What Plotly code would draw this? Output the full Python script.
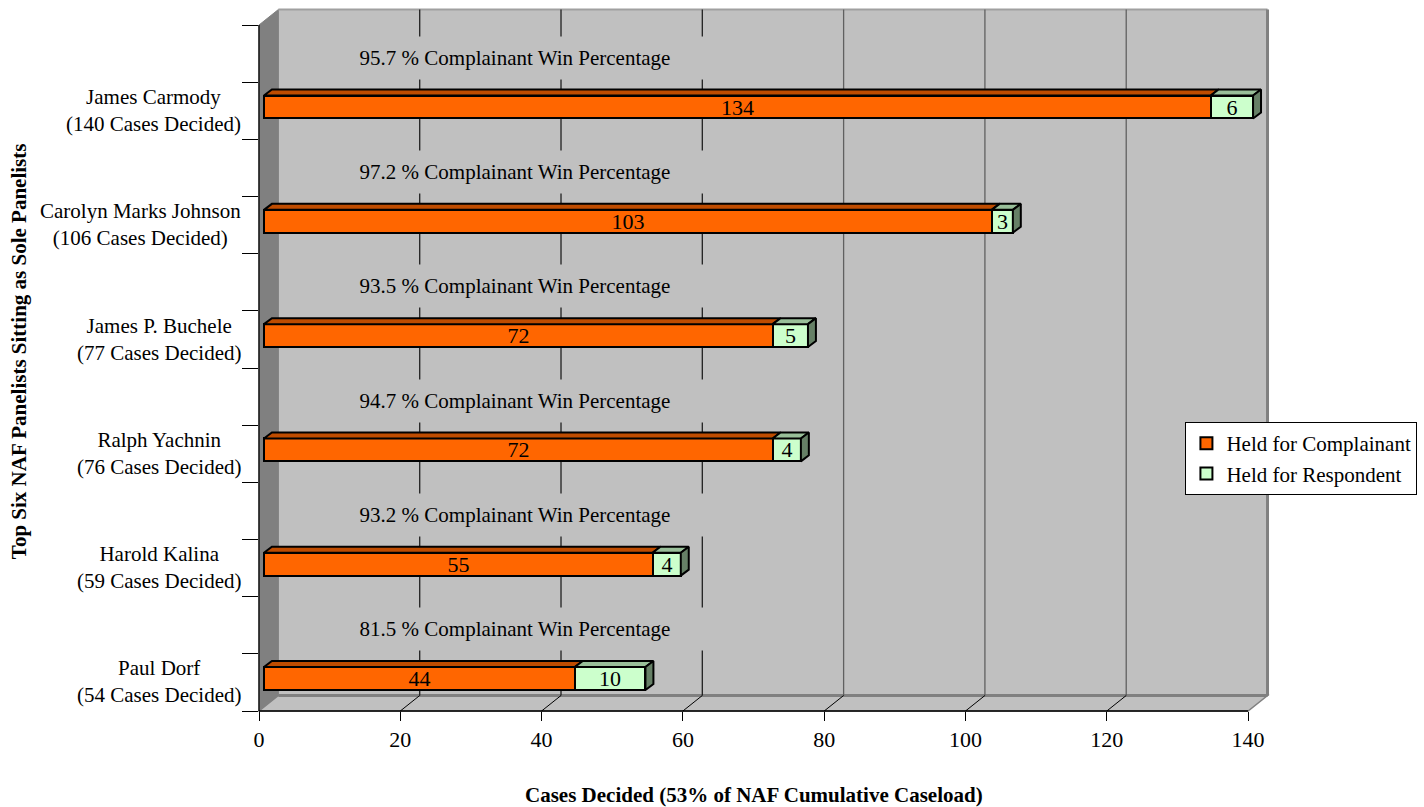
import plotly.graph_objects as go

# ---------------- data ----------------
panelists = ["Paul Dorf", "Harold Kalina", "Ralph Yachnin", "James P. Buchele",
             "Carolyn Marks Johnson", "James Carmody"]
held_complainant = [44, 55, 72, 72, 103, 134]
held_respondent = [10, 4, 4, 5, 3, 6]
x_ticks = [0, 20, 40, 60, 80, 100, 120, 140]
x_title = "Cases Decided (53% of NAF Cumulative Caseload)"
y_title = "Top Six NAF Panelists Sitting as Sole Panelists"

FONT = "Liberation Serif, Times New Roman, serif"

# ---------------- geometry (pixel frame) ----------------
W, H = 1424, 807
L, R, T, B = 259, 1276, 7, 711
PX_PER_X = 7.1
PX_PER_Y = 114.3
Y0_PX = 678.5                      # pixel of category index 0
xmax = (R - L) / PX_PER_X
ymin = (Y0_PX - B) / PX_PER_Y
ymax = (Y0_PX - T) / PX_PER_Y
DX = 19.5 / PX_PER_X               # full depth offset of the 3D box
DY = 15.5 / PX_PER_Y
y_front_top = (Y0_PX - 25) / PX_PER_Y
xfront = x_ticks[-1]


def PX(v):
    return (v - 0) / (xmax - 0)


def PY(v):
    return (v - ymin) / (ymax - ymin)


n = len(panelists)
ypos = list(range(n))
totals = [a + b for a, b in zip(held_complainant, held_respondent)]
pct = [100.0 * a / t for a, t in zip(held_complainant, totals)]

BAR_OFF = 0.7          # bars sit a little behind the front plane
BAR_H = 0.2
ddx, ddy = 8 / PX_PER_X, 6 / PX_PER_Y

ORANGE, ORANGE_TOP = "#FF6600", "#BF4C00"
GREEN, GREEN_TOP, GREEN_SIDE = "#CCFFCC", "#99BF99", "#668066"
WALL, SIDE = "#C0C0C0", "#808080"

fig = go.Figure()

# front faces of bars
fig.add_trace(go.Bar(
    y=ypos, x=held_complainant, base=[BAR_OFF] * n, orientation="h", width=BAR_H,
    marker=dict(color=ORANGE, line=dict(color="black", width=2)),
    text=[str(v) for v in held_complainant], textposition="inside",
    insidetextanchor="middle", textangle=0, constraintext="none",
    textfont=dict(family=FONT, size=22, color="black"),
    name="Held for Complainant", hoverinfo="x+name"))
fig.add_trace(go.Bar(
    y=ypos, x=held_respondent, base=[BAR_OFF + v for v in held_complainant],
    orientation="h", width=BAR_H,
    marker=dict(color=GREEN, line=dict(color="black", width=2)),
    text=[str(v) for v in held_respondent], textposition="inside",
    insidetextanchor="middle", textangle=0, constraintext="none",
    textfont=dict(family=FONT, size=22, color="black"),
    name="Held for Respondent", hoverinfo="x+name"))

# top / side faces (3D look)
def poly_trace(xs, ys, color):
    return go.Scatter(x=xs, y=ys, mode="lines", fill="toself", fillcolor=color,
                      line=dict(color="black", width=2), showlegend=False,
                      hoverinfo="skip")

ox, oy, gx, gy, sx, sy = [], [], [], [], [], []
for c, a, t in zip(ypos, held_complainant, totals):
    top = c + BAR_H / 2
    bot = c - BAR_H / 2
    x0, x1, x2 = BAR_OFF, BAR_OFF + a, BAR_OFF + t
    ox += [x0, x0 + ddx, x1 + ddx, x1, x0, None]
    oy += [top, top + ddy, top + ddy, top, top, None]
    gx += [x1, x1 + ddx, x2 + ddx, x2, x1, None]
    gy += [top, top + ddy, top + ddy, top, top, None]
    sx += [x2, x2 + ddx, x2 + ddx, x2, x2, None]
    sy += [top, top + ddy, bot + ddy, bot, top, None]
fig.add_trace(poly_trace(ox, oy, ORANGE_TOP))
fig.add_trace(poly_trace(gx, gy, GREEN_TOP))
fig.add_trace(poly_trace(sx, sy, GREEN_SIDE))

# ---------------- 3D box: wall, side wall, floor ----------------
shapes = []
def path(points):
    return "M " + " L ".join(f"{PX(x)},{PY(y)}" for x, y in points) + " Z"

# back wall
shapes.append(dict(type="path", xref="paper", yref="paper", layer="below",
                   path=path([(DX, ymin + DY), (DX, y_front_top + DY),
                              (xfront + DX, y_front_top + DY), (xfront + DX, ymin + DY)]),
                   fillcolor=WALL, line=dict(color=WALL, width=0)))
# side wall
shapes.append(dict(type="path", xref="paper", yref="paper", layer="below",
                   path=path([(0, ymin), (DX, ymin + DY), (DX, y_front_top + DY), (0, y_front_top)]),
                   fillcolor=SIDE, line=dict(color=SIDE, width=1)))
# floor
shapes.append(dict(type="path", xref="paper", yref="paper", layer="below",
                   path=path([(0, ymin), (DX, ymin + DY), (xfront + DX, ymin + DY), (xfront, ymin)]),
                   fillcolor=WALL, line=dict(color=SIDE, width=1.5)))
# wall borders (top and right)
shapes.append(dict(type="line", xref="paper", yref="paper", layer="below",
                   x0=PX(DX), x1=PX(xfront + DX), y0=PY(y_front_top + DY), y1=PY(y_front_top + DY),
                   line=dict(color="#A0A0A0", width=2)))
shapes.append(dict(type="line", xref="paper", yref="paper", layer="below",
                   x0=PX(xfront + DX), x1=PX(xfront + DX), y0=PY(ymin + DY), y1=PY(y_front_top + DY),
                   line=dict(color=SIDE, width=3)))
shapes.append(dict(type="line", xref="paper", yref="paper", layer="below",
                   x0=PX(DX), x1=PX(xfront + DX), y0=PY(ymin + DY), y1=PY(ymin + DY),
                   line=dict(color=SIDE, width=3)))
# gridlines on the back wall and their floor continuation
for v in x_ticks[1:-1]:
    gcol = "#202020" if v <= 60 else "#606060"
    shapes.append(dict(type="line", xref="paper", yref="paper", layer="below",
                       x0=PX(v + DX), x1=PX(v + DX), y0=PY(ymin + DY), y1=PY(y_front_top + DY),
                       line=dict(color=gcol, width=1.3)))
    shapes.append(dict(type="line", xref="paper", yref="paper", layer="below",
                       x0=PX(v), x1=PX(v + DX), y0=PY(ymin), y1=PY(ymin + DY),
                       line=dict(color="black", width=1)))
# front axis lines
shapes.append(dict(type="line", xref="paper", yref="paper", layer="above",
                   x0=PX(0), x1=PX(xfront), y0=PY(ymin), y1=PY(ymin),
                   line=dict(color="black", width=1.3)))
shapes.append(dict(type="line", xref="paper", yref="paper", layer="above",
                   x0=PX(0), x1=PX(0), y0=PY(ymin), y1=PY(y_front_top),
                   line=dict(color="black", width=1.3)))

# ---------------- annotations ----------------
annotations = []
for c, name, t in zip(ypos, panelists, totals):
    annotations.append(dict(xref="paper", yref="y", x=0, y=c - 0.03, xshift=-16,
                            xanchor="right", yanchor="middle", align="center",
                            text=f"{name}<br>({t} Cases Decided)", showarrow=False,
                            font=dict(family=FONT, size=21, color="black")))
for c, p in zip(ypos, pct):
    annotations.append(dict(xref="x", yref="y", x=36.3, y=c + 0.43,
                            text=f"{p:.1f} % Complainant Win Percentage", showarrow=False,
                            bgcolor=WALL, width=390, height=40, align="center",
                            font=dict(family=FONT, size=21, color="black")))
annotations.append(dict(xref="paper", yref="paper", x=PX(xfront / 2),
                        y=(B - 795) / (B - T), xanchor="center", yanchor="middle",
                        text=f"<b>{x_title}</b>", showarrow=False,
                        font=dict(family=FONT, size=21, color="black")))
annotations.append(dict(xref="paper", yref="paper", x=(18 - L) / (R - L),
                        y=(B - 351) / (B - T), xanchor="center", yanchor="middle",
                        textangle=-90, text=f"<b>{y_title}</b>", showarrow=False,
                        font=dict(family=FONT, size=21, color="black")))

ytick_vals = [ymin + 0.5 * k for k in range(13)]

fig.update_layout(
    width=W, height=H, autosize=False,
    margin=dict(l=L, r=W - R, t=T, b=H - B, pad=0),
    paper_bgcolor="white", plot_bgcolor="white",
    barmode="overlay", bargap=0,
    font=dict(family=FONT, size=21, color="black"),
    xaxis=dict(range=[0, xmax], tickvals=x_ticks, ticks="outside", ticklen=9,
               tickcolor="black", tickwidth=1.3, showgrid=False, zeroline=False,
               showline=False, tickfont=dict(family=FONT, size=22, color="black"),
               fixedrange=True, automargin=False),
    yaxis=dict(range=[ymin, ymax], tickvals=ytick_vals, ticks="outside", ticklen=16,
               tickcolor="black", tickwidth=1.3, showticklabels=False, showgrid=False,
               zeroline=False, showline=False, fixedrange=True, automargin=False),
    shapes=shapes, annotations=annotations,
    legend=dict(x=(1190 - L) / (R - L), y=(B - 422) / (B - T), xanchor="left", yanchor="top",
                bgcolor="white", bordercolor="black", borderwidth=1,
                font=dict(family=FONT, size=21, color="black"),
                tracegroupgap=0, itemwidth=30),
    showlegend=True,
)

fig.write_html("out.html", config={"displayModeBar": False},
               post_script="document.body.style.margin='0px';document.body.style.overflow='hidden';")
